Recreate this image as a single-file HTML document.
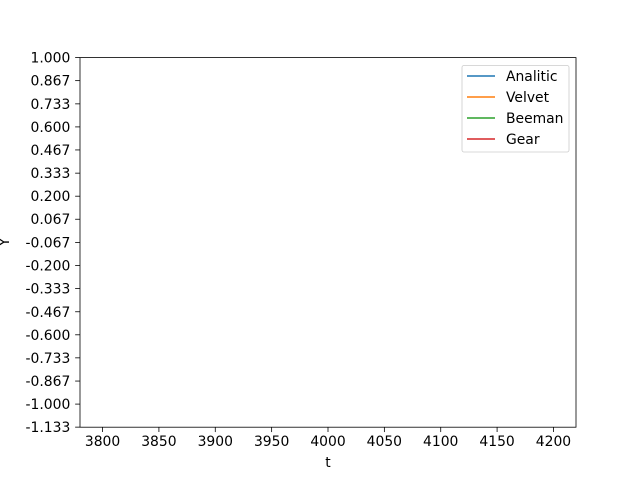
<!DOCTYPE html>
<html><head><meta charset="utf-8"><style>
html,body{margin:0;padding:0;background:#fff;}
svg{display:block;font-family:"DejaVu Sans","Liberation Sans",sans-serif;}
</style></head><body>
<svg id="chart" width="640" height="480" viewBox="0 0 640 480"></svg>
<script>
const xTicks = [3800, 3850, 3900, 3950, 4000, 4050, 4100, 4150, 4200];
const yTickLabels = ["1.000","0.867","0.733","0.600","0.467","0.333","0.200","0.067","-0.067","-0.200","-0.333","-0.467","-0.600","-0.733","-0.867","-1.000","-1.133"];
const seriesNames = ["Analitic","Velvet","Beeman","Gear"];
const seriesColors = ["#1f77b4","#ff7f0e","#2ca02c","#d62728"];
const seriesT = [];
const analiticY = [];
const velvetY = [];
const beemanY = [];
const gearY = [];
const allSeries = [analiticY, velvetY, beemanY, gearY];

const NS = "http://www.w3.org/2000/svg";
const svg = document.getElementById("chart");
const L=80, R=576, T=57.6, B=427.2;
const FS = 13.9;
const xMin=3780, xMax=4220, yMin=-1.1333333, yMax=1.0;
const sx = v => L + (v - xMin) / (xMax - xMin) * (R - L);
const sy = v => B - (v - yMin) / (yMax - yMin) * (B - T);
function mk(tag, attrs, parent){
  const e = document.createElementNS(NS, tag);
  for (const k in attrs) e.setAttribute(k, attrs[k]);
  (parent||svg).appendChild(e);
  return e;
}
allSeries.forEach((ys, i) => {
  if (!ys.length) return;
  const pts = ys.map((y, j) => sx(seriesT[j]) + "," + sy(y)).join(" ");
  const pl = mk("polyline", {points: pts, fill: "none", stroke: seriesColors[i], "stroke-width": 1.5});
  
  
});
const frame = mk("rect", {x: L, y: T, width: R-L, height: B-T, fill: "none", stroke: "#000", "stroke-width": 0.8});


xTicks.forEach(v => {
  const x = sx(v);
  mk("line", {x1: x, x2: x, y1: B, y2: B + 4.86, stroke: "#000", "stroke-width": 0.8});
  const t = mk("text", {x: x, y: B + 19, "text-anchor": "middle", "font-size": FS});
  t.textContent = v;
  
  
});
yTickLabels.forEach(s => {
  const y = sy(parseFloat(s));
  mk("line", {x1: L - 4.86, x2: L, y1: y, y2: y, stroke: "#000", "stroke-width": 0.8});
  const t = mk("text", {x: L - 9.7, y: y + 5, "text-anchor": "end", "font-size": FS});
  t.textContent = s;
  
  
});
const xt = mk("text", {x: (L + R) / 2, y: 467, "text-anchor": "middle", "font-size": FS});
xt.textContent = "t";


const yt = mk("text", {x: 0, y: 0, "text-anchor": "middle", "font-size": FS, transform: "translate(9,242) rotate(-90)"});
yt.textContent = "Y";


const lg = mk("g", {});


mk("rect", {x: 462, y: 65.5, width: 107, height: 86.5, rx: 2, fill: "#fff", "fill-opacity": 0.8, stroke: "#ccc", "stroke-width": 0.8}, lg);
seriesNames.forEach((n, i) => {
  const y = 76 + i * 21;
  const g = mk("g", {}, lg);
  
  
  mk("line", {x1: 467, x2: 495, y1: y, y2: y, stroke: seriesColors[i], "stroke-width": 1.5}, g);
  const t = mk("text", {x: 506, y: y + 5, "font-size": FS}, g);
  t.textContent = n;
});
</script>
</body></html>
